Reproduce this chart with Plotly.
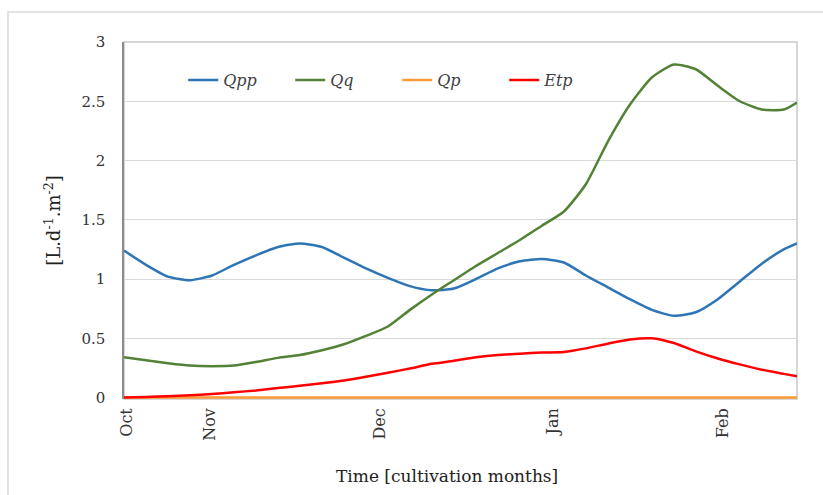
import plotly.graph_objects as go

# Days since start of cultivation (x axis)
days = [0, 4, 8, 12, 16, 20, 24, 28, 32, 36, 40, 44, 48, 52, 56, 60, 64, 68,
        72, 76, 80, 84, 88, 92, 96, 100, 104, 108, 112, 116, 120, 122.4]

# Series [L.d-1.m-2]
qpp = [1.24, 1.12, 1.02, 0.99, 1.03, 1.12, 1.20, 1.27, 1.30, 1.27, 1.18, 1.09,
       1.01, 0.94, 0.905, 0.92, 1.00, 1.09, 1.15, 1.17, 1.14, 1.03, 0.93, 0.83,
       0.74, 0.69, 0.72, 0.83, 0.98, 1.13, 1.25, 1.30]
qq = [0.34, 0.315, 0.29, 0.27, 0.265, 0.27, 0.30, 0.335, 0.36, 0.40, 0.45, 0.52,
      0.60, 0.74, 0.87, 0.99, 1.11, 1.22, 1.33, 1.45, 1.57, 1.80, 2.16, 2.47,
      2.70, 2.81, 2.77, 2.63, 2.50, 2.43, 2.43, 2.49]
qp = [0.0] * len(days)
etp = [0.0, 0.005, 0.012, 0.02, 0.03, 0.045, 0.06, 0.08, 0.10, 0.12, 0.145, 0.175,
       0.21, 0.245, 0.285, 0.31, 0.34, 0.36, 0.37, 0.38, 0.385, 0.415, 0.455, 0.49,
       0.50, 0.46, 0.39, 0.33, 0.28, 0.235, 0.20, 0.18]

month_ticks = [0.5, 15.6, 46.5, 78, 108.9]
month_labels = ["Oct", "Nov", "Dec", "Jan", "Feb"]
y_ticks = [0, 0.5, 1, 1.5, 2, 2.5, 3]
y_labels = ["0", "0.5", "1", "1.5", "2", "2.5", "3"]

SERIF = "DejaVu Serif"
TXT = "#404040"

fig = go.Figure()
series = [("Qpp", qpp, "#2E75B6"), ("Qq", qq, "#538135"),
          ("Qp", qp, "#FF9933"), ("Etp", etp, "#FF0000")]
for name, vals, col in series:
    fig.add_trace(go.Scatter(x=days, y=vals, name=name, mode="lines",
                             line=dict(color=col, width=2.5, shape="spline", smoothing=0.6)))

# y range starts a hair below zero so the zero-valued line is not clipped in half
fig.update_layout(
    width=823, height=495,
    margin=dict(l=124, r=26, t=42, b=96),
    paper_bgcolor="white", plot_bgcolor="white",
    font=dict(family=SERIF, color=TXT, size=15),
    legend=dict(orientation="h", x=0.088, y=0.893, xanchor="left", yanchor="middle",
                font=dict(family=SERIF, size=16, color=TXT, style="italic"),
                entrywidth=62, entrywidthmode="pixels", bgcolor="rgba(0,0,0,0)"),
    xaxis=dict(range=[0, 122.4], tickvals=month_ticks, ticktext=month_labels,
               tickangle=-90, showgrid=False, zeroline=False, showline=False,
               ticks="", ticklabelstandoff=5,
               tickfont=dict(family=SERIF, size=16, color="#333333")),
    yaxis=dict(range=[-0.012, 3], tickvals=y_ticks, ticktext=y_labels,
               showgrid=True, gridcolor="#d9d9d9", gridwidth=1, zeroline=False,
               showline=True, linecolor="#8c8c8c", linewidth=1.5,
               ticks="", ticklabelstandoff=14,
               tickfont=dict(family=SERIF, size=15, color="#333333"),
               title=dict(text="[L.d<sup>-1</sup>.m<sup>-2</sup>]", standoff=16,
                          font=dict(family=SERIF, size=18, color="#222222"))),
    shapes=[
        dict(type="rect", xref="paper", yref="paper", x0=0, y0=0, x1=1, y1=1,
             line=dict(color="#c9c9c9", width=1.5), layer="below"),
        dict(type="rect", xref="paper", yref="paper", x0=-0.1724, y0=-0.30,
             x1=1.06, y1=1.0843, line=dict(color="#d9d9d9", width=1.5), layer="below"),
    ],
    annotations=[
        dict(text="Time [cultivation months]", xref="paper", yref="paper",
             x=0.48, y=-0.215, xanchor="center", yanchor="middle", showarrow=False,
             font=dict(family=SERIF, size=17, color="#222222")),
    ],
)

fig.write_html("out.html")
